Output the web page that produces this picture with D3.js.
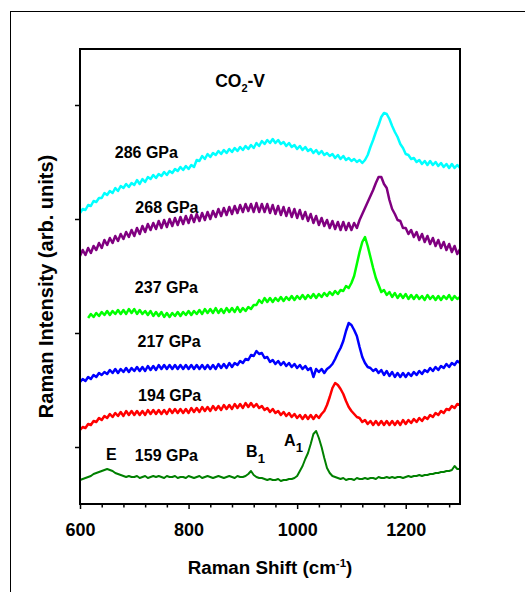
<!DOCTYPE html>
<html>
<head>
<meta charset="utf-8">
<script src="https://cdn.jsdelivr.net/npm/d3@7/dist/d3.min.js"></script>
<style>
  html, body { margin: 0; padding: 0; background: #fff; }
  svg { display: block; }
  text { font-family: "Liberation Sans", Arial, sans-serif; font-weight: bold; fill: #000; }
</style>
</head>
<body>
<svg id="chart" width="525" height="592"></svg>
<script>
// Raman shift grid (cm^-1)
const shift = [
  600,605,610,615,620,625,630,635,640,645,650,655,660,665,670,675,680,685,690,695,
  700,705,710,715,720,725,730,735,740,745,750,755,760,765,770,775,780,785,790,795,
  800,805,810,815,820,825,830,835,840,845,850,855,860,865,870,875,880,885,890,895,
  900,905,910,915,920,925,930,935,940,945,950,955,960,965,970,975,980,985,990,995,
  1000,1005,1010,1015,1020,1025,1030,1035,1040,1045,1050,1055,1060,1065,1070,1075,1080,1085,1090,1095,
  1100,1105,1110,1115,1120,1125,1130,1135,1140,1145,1150,1155,1160,1165,1170,1175,1180,1185,1190,1195,
  1200,1205,1210,1215,1220,1225,1230,1235,1240,1245,1250,1255,1260,1265,1270,1275,1280,1285,1290,1295,
  1300];

// Intensities (arb. units, offset-stacked)
const p286 = [
  291,295,294,299,298,303,302,306,306,311,309,313,311,316,313,318,316,320,317,321,
  319,324,320,325,322,327,325,329,326,330,328,332,329,333,331,335,333,337,334,338,
  335,339,337,344,343,348,345,350,347,351,349,353,350,354,351,355,352,356,353,357,
  354,358,355,359,356,361,358,363,360,364,361,365,361,364,360,362,358,361,357,359,
  355,358,354,357,353,355,351,354,350,353,349,351,348,350,346,349,345,348,344,346,
  343,345,342,344,341,344,349,357,364,372,379,387,391,390,385,378,372,367,360,356,
  350,349,345,346,342,344,340,343,339,343,339,342,338,341,337,340,336,340,336,339,
  336];
const p268 = [
  248,254,249,256,251,258,254,261,256,264,259,266,261,268,263,270,265,272,267,274,
  268,276,270,278,272,280,274,281,275,283,276,284,277,285,278,286,279,287,280,288,
  281,289,282,290,283,291,284,292,285,293,287,295,288,296,289,297,290,298,291,299,
  292,300,293,300,292,301,292,300,292,300,291,299,290,298,289,297,288,296,287,295,
  286,294,285,292,283,290,281,288,279,286,278,284,276,283,275,282,274,282,274,281,
  274,281,276,284,290,296,302,308,314,321,327,327,320,316,304,295,290,284,283,276,
  276,270,274,267,272,264,270,262,268,260,266,258,264,256,262,254,260,252,258,250,
  255];
const p237 = [
  null,null,null,186,190,187,191,188,192,189,193,189,193,190,194,190,194,190,195,191,
  195,190,194,190,193,189,193,188,192,188,192,187,191,187,191,188,192,188,192,189,
  193,189,193,190,194,190,195,191,195,191,196,191,195,191,196,192,196,192,197,192,
  196,193,197,195,199,199,204,201,206,202,206,202,206,203,207,203,207,204,208,204,
  208,205,209,205,209,206,210,206,210,207,211,208,212,209,213,210,214,213,218,216,
  221,228,240,252,262,267,258,247,236,226,219,212,214,209,212,207,211,206,210,206,
  210,205,209,205,209,205,208,204,209,205,208,204,208,204,208,205,209,204,208,205,
  207];
const p217 = [
  122,125,123,127,125,129,127,131,129,132,130,134,131,135,131,135,132,136,132,136,
  133,137,133,137,133,138,134,138,134,139,135,139,135,139,135,139,135,139,135,139,
  135,139,135,139,135,139,135,139,135,139,135,140,136,140,136,141,137,141,139,143,
  141,145,144,149,148,153,150,151,146,147,142,144,140,143,139,142,138,141,137,140,
  136,139,135,138,134,136,127,135,132,135,131,135,137,140,145,151,156,163,173,181,
  179,174,168,157,147,141,137,136,133,135,131,134,129,133,128,132,127,131,127,131,
  127,131,128,132,129,133,130,134,132,136,133,137,134,138,136,140,137,141,139,143,
  141];
const p194 = [
  74,77,76,80,79,83,82,86,84,88,86,90,87,91,88,92,88,93,89,93,
  89,93,89,93,89,94,90,94,90,94,90,94,90,95,91,95,91,95,91,95,
  91,96,92,96,92,97,93,97,93,98,94,98,94,99,95,99,95,100,96,100,
  96,101,97,101,97,100,96,98,94,96,92,95,91,93,89,92,88,91,87,90,
  86,89,85,89,85,89,85,89,86,90,93,99,107,116,121,119,115,110,103,97,
  93,90,87,86,82,84,80,83,79,83,79,83,79,83,79,83,79,83,79,84,
  80,84,81,85,82,86,83,87,85,89,87,91,89,93,91,95,94,98,96,100,
  99];
const p159 = [
  24,25,26,27,28,30,31,32,33,34,35,34,33,31,30,29,28,27,28,27,
  27,28,26,27,28,26,27,28,27,28,27,26,28,27,27,28,26,27,27,26,
  28,27,26,27,28,26,27,28,27,26,27,28,27,26,27,28,27,26,28,27,
  27,28,30,33,29,27,26,26,25,24,25,24,24,25,23,24,24,25,25,26,
  28,33,38,45,51,60,70,73,66,57,46,36,31,28,27,26,25,26,24,25,
  25,24,26,25,25,26,25,26,26,25,27,26,26,27,26,27,26,27,27,26,
  27,28,27,28,28,29,28,29,29,30,30,31,31,32,32,33,33,34,38,35,
  35];

const seriesNames = ["286 GPa","268 GPa","237 GPa","217 GPa","194 GPa","159 GPa"];
const seriesColors = ["#00ffff","#800080","#00ff00","#0000ff","#ff0000","#008000"];
const seriesValues = [p286,p268,p237,p217,p194,p159];

// Label anchors in data coordinates (shift, intensity)
const labelShift = [664,702,701,706,707,701];
const labelInten = [346,291,211,157,103,43];

const xTicksMajor = [600,800,1000,1200];
const xTicksMinor = [640,680,720,760,840,880,920,960,1040,1080,1120,1160,1240,1280];
const yTicks = [57,171,285,399];

const svg = d3.select("#chart");
const W = 525, H = 592;
const margin = {left: 80, right: 65, top: 49, bottom: 88};

const x = d3.scaleLinear().domain([600,1300]).range([margin.left, W - margin.right]);
const y = d3.scaleLinear().domain([0,455]).range([H - margin.bottom, margin.top]);

// outer frame
svg.append("rect").attr("x",10.5).attr("y",11.5).attr("width",620).attr("height",620)
  .attr("fill","none").attr("stroke","#000").attr("stroke-width",1);

// curves
const line = d3.line()
  .defined(d => d[1] !== null)
  .x(d => x(d[0])).y(d => y(d[1]));

seriesValues.forEach((vals, i) => {
  const pts = shift.map((s, j) => [s, vals[j]]);
  svg.append("path")
    .datum(pts)
    .attr("d", line)
    .attr("fill","none")
    .attr("stroke", seriesColors[i])
    .attr("stroke-width", i === 5 ? 2 : 2.5)
    .attr("stroke-linejoin","round");
});

// axes
const xAxis = svg.append("g").attr("transform", `translate(0,${y(0)})`)
  .call(d3.axisBottom(x).tickValues(xTicksMajor).tickSize(5).tickPadding(14).tickFormat(d3.format("d")));
const xMinor = svg.append("g").attr("transform", `translate(0,${y(0)})`)
  .call(d3.axisBottom(x).tickValues(xTicksMinor).tickSize(3.5).tickFormat(""));
const yAxis = svg.append("g").attr("transform", `translate(${x(600)},0)`)
  .call(d3.axisLeft(y).tickValues(yTicks).tickSize(5).tickFormat(""));
[xAxis, xMinor, yAxis].forEach(g => {
  g.select(".domain").remove();
  g.selectAll("line").attr("stroke","#000").attr("stroke-width",1.5);
});
xAxis.selectAll("text").style("font-size","18px").attr("fill","#000");

// plot frame
svg.append("rect")
  .attr("x", x(600)).attr("y", y(455))
  .attr("width", x(1300) - x(600)).attr("height", y(0) - y(455))
  .attr("fill","none").attr("stroke","#000").attr("stroke-width",2);

// pressure labels
seriesNames.forEach((n, i) => {
  svg.append("text").attr("x", x(labelShift[i])).attr("y", y(labelInten[i]))
    .style("font-size","16px").text(n);
});

// mode labels
svg.append("text").attr("x", x(648)).attr("y", y(44)).style("font-size","16px").text("E");
const b1 = svg.append("text").attr("x", x(906)).attr("y", y(47)).style("font-size","16px");
b1.append("tspan").text("B");
b1.append("tspan").attr("dy",6).style("font-size","13px").text("1");
const a1 = svg.append("text").attr("x", x(976)).attr("y", y(58)).style("font-size","16px");
a1.append("tspan").text("A");
a1.append("tspan").attr("dy",6).style("font-size","13px").text("1");

// phase title
const t = svg.append("text").attr("x", x(849)).attr("y", y(417)).style("font-size","17.5px");
t.append("tspan").text("CO");
t.append("tspan").attr("dy",5).style("font-size","11px").text("2");
t.append("tspan").attr("dy",-5).text("-V");

// axis titles
const xt = svg.append("text").attr("x", 270).attr("y", 574)
  .attr("text-anchor","middle").style("font-size","18.8px");
xt.append("tspan").text("Raman Shift (cm");
xt.append("tspan").attr("dy",-7).style("font-size","11.5px").text("-1");
xt.append("tspan").attr("dy",7).text(")");

svg.append("text")
  .attr("transform", `translate(53,286.5) rotate(-90)`)
  .attr("text-anchor","middle").style("font-size","20px")
  .text("Raman Intensity (arb. units)");
</script>
</body>
</html>
